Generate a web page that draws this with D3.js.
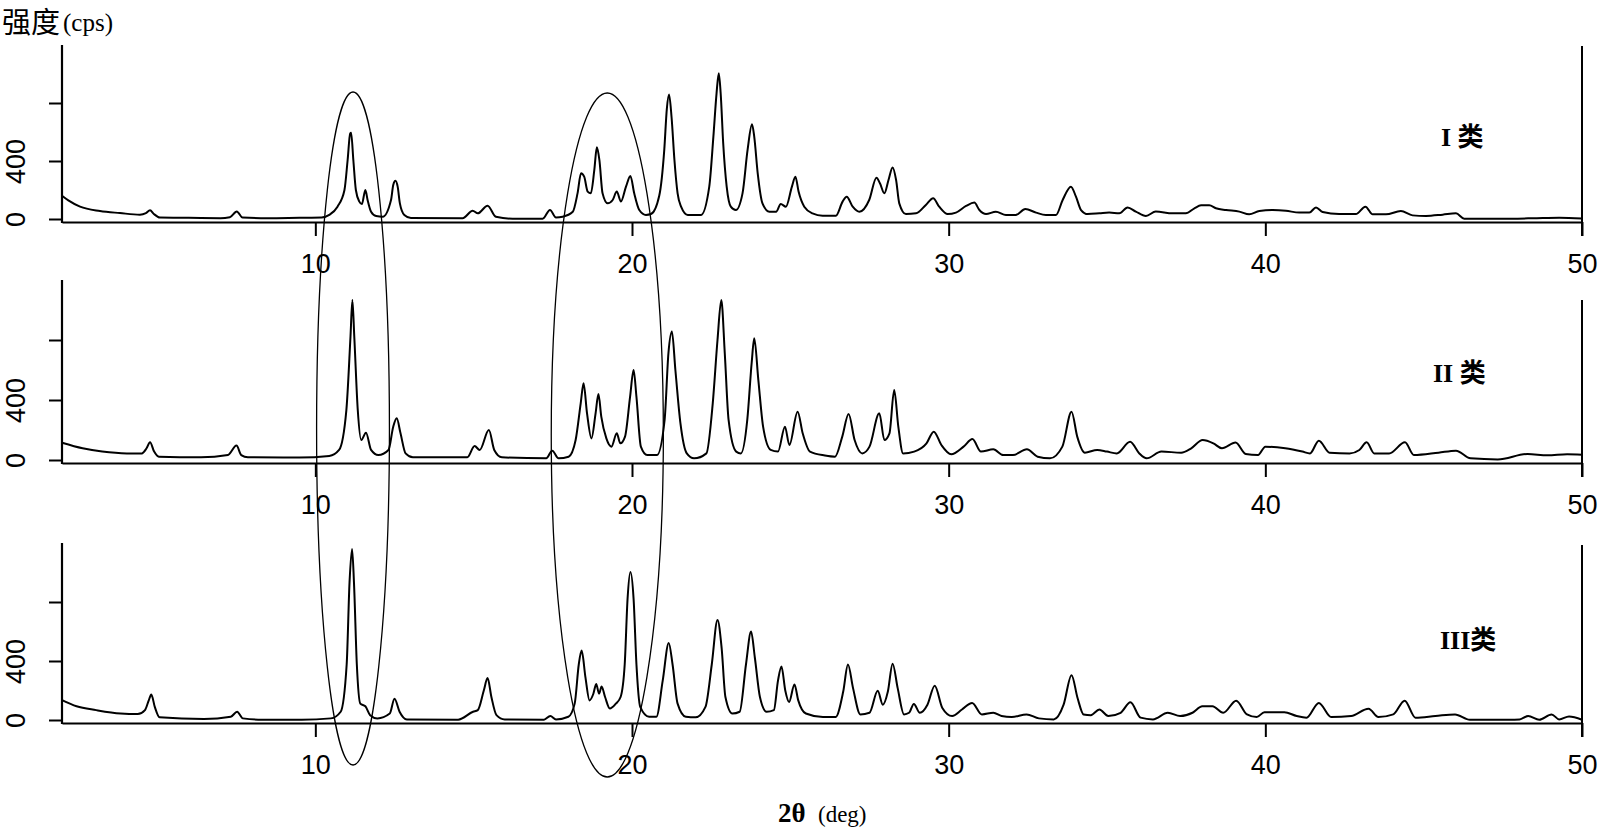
<!DOCTYPE html>
<html><head><meta charset="utf-8">
<script src="https://cdn.jsdelivr.net/npm/d3@7"></script>
<style>html,body{margin:0;padding:0;background:#fff;} svg{display:block;}</style>
</head><body>
<svg id="chart" width="1600" height="828"></svg>
<script>
// ---- data (2θ in deg, intensity in cps) ----
const seriesI = [
[2.0,160],[2.2,128],[2.57,85],[3.2,55],[3.83,41],[4.46,30],[4.65,40],[4.78,60],[4.9,35],[5.09,10],
[6.0,8],[7.0,6],[7.3,12],[7.52,52],[7.7,10],[8.5,5],[9.5,8],[10.2,10],
[10.44,28],[10.7,85],[10.92,200],[11.02,407],[11.1,590],[11.13,595],[11.2,407],[11.28,200],[11.39,120],[11.47,103],[11.58,200],[11.65,131],[11.76,50],[11.92,20],[12.13,16],[12.39,131],[12.46,234],[12.53,264],[12.6,223],[12.67,108],[12.81,28],[13.02,7],
[14.65,5],[14.97,57],[15.13,39],[15.44,92],[15.7,16],[16.23,2],[17.18,2],[17.41,62],[17.6,11],[17.81,16],
[18.13,50],[18.28,177],[18.39,315],[18.49,292],[18.6,189],[18.7,177],[18.81,338],[18.89,494],[18.97,407],[19.07,177],[19.23,108],[19.39,131],[19.52,189],[19.65,120],[19.81,223],[19.95,297],[20.07,177],[20.23,62],[20.44,28],[20.6,34],[20.86,160],[21.02,480],[21.1,760],[21.17,858],[21.25,700],[21.34,407],[21.44,177],[21.55,85],[21.76,28],[22.18,28],[22.44,223],[22.57,568],[22.67,867],[22.74,1005],[22.8,867],[22.88,522],[22.99,223],[23.12,85],[23.28,62],[23.49,177],[23.65,476],[23.79,653],[23.86,568],[23.97,315],[24.12,108],[24.34,50],[24.55,50],[24.7,103],[24.86,85],[25.05,223],[25.16,292],[25.26,189],[25.44,85],[25.7,39],[26.02,23],[26.44,23],[26.65,120],[26.78,154],[26.97,85],[27.18,50],[27.49,131],[27.72,285],[27.83,246],[27.97,177],[28.1,269],[28.23,356],[28.34,269],[28.44,108],[28.65,34],[28.97,39],[29.28,97],[29.51,143],[29.7,85],[29.97,34],[30.23,44],[30.55,90],[30.81,113],[30.97,62],[31.18,34],[31.49,50],[31.81,28],[32.12,28],[32.42,69],[32.76,44],[33.07,28],[33.39,28],[33.6,131],[33.86,223],[34.02,154],[34.18,62],[34.39,34],[34.76,39],[35.07,44],[35.39,39],[35.65,80],[35.91,51],[36.23,21],[36.54,51],[37.07,39],[37.49,39],[37.76,74],[37.97,94],[38.23,94],[38.44,74],[38.76,62],[39.18,51],[39.49,32],[39.81,55],[40.23,62],[40.65,57],[41.07,44],[41.39,44],[41.6,80],[41.81,48],[42.33,34],[42.86,34],[43.16,85],[43.39,32],[43.81,32],[44.28,55],[44.65,25],[45.07,21],[45.6,30],[46.02,39],[46.28,2],[47.39,2],[48.44,5],[49.28,9],[50,3]
];
const seriesII = [
[2.0,115],[2.65,78],[3.27,56],[4.05,44],[4.52,44],[4.67,78],[4.78,118],[4.91,56],[5.06,22],[6.39,18],[7.24,33],[7.51,96],[7.66,33],[7.87,18],[9.5,16],[10.44,27],[10.75,67],[10.98,333],[11.11,822],[11.17,1067],[11.23,822],[11.34,333],[11.45,133],[11.6,182],[11.76,67],[11.99,33],[12.31,67],[12.46,222],[12.57,278],[12.69,178],[12.85,44],[13.08,18],[14.8,18],[15.03,93],[15.19,67],[15.48,200],[15.65,67],[15.89,18],[17.29,11],[17.48,62],[17.68,11],[18.0,22],[18.22,133],[18.38,378],[18.47,511],[18.58,311],[18.72,144],[18.85,311],[18.94,440],[19.03,289],[19.19,144],[19.35,89],[19.52,178],[19.63,111],[19.78,156],[19.94,422],[20.05,600],[20.14,422],[20.28,89],[20.48,33],[20.79,33],[21.03,267],[21.15,711],[21.26,856],[21.37,600],[21.53,244],[21.73,44],[21.96,11],[22.35,44],[22.55,378],[22.7,800],[22.82,1067],[22.93,711],[23.05,267],[23.29,56],[23.44,44],[23.64,267],[23.78,650],[23.86,811],[23.99,533],[24.14,222],[24.38,67],[24.61,56],[24.83,222],[24.97,100],[25.23,322],[25.39,178],[25.62,56],[26.09,30],
[26.41,22],[26.64,156],[26.84,307],[27.03,133],[27.27,44],[27.5,89],[27.81,311],[27.97,133],[28.13,178],[28.28,467],[28.41,222],[28.56,44],[28.91,56],[29.3,111],[29.53,189],[29.77,100],[30.08,38],[30.47,89],[30.75,140],[31.02,56],[31.41,71],[31.72,33],[32.03,33],[32.47,71],[32.81,22],[33.2,11],[33.59,89],[33.88,322],[34.06,156],[34.3,49],[34.69,67],[35.0,56],[35.31,44],[35.73,122],[36.02,44],[36.25,11],[36.72,56],[37.34,49],[37.66,78],[38.02,133],[38.36,111],[38.63,78],[39.06,116],[39.38,40],[39.77,33],[40.0,89],[40.63,78],[41.17,56],[41.41,44],[41.69,129],[42.03,49],[42.66,44],[42.97,67],[43.2,118],[43.44,44],[43.91,44],[44.41,118],[44.69,33],[45.47,49],[46.02,62],[46.48,11],[47.34,4],[48.28,40],[48.91,31],[49.53,38],[50,35]
];
const seriesIII = [
[2.0,135],[2.46,93],[3.08,67],[3.85,44],[4.39,40],[4.62,67],[4.74,133],[4.82,173],[4.93,89],[5.08,18],[6.48,7],[7.33,22],[7.53,56],[7.71,11],[8.33,2],[9.57,2],[10.49,11],[10.8,56],[10.99,378],[11.08,933],[11.16,1160],[11.22,933],[11.31,378],[11.42,111],[11.58,93],[11.73,33],[11.96,11],[12.35,44],[12.5,144],[12.66,56],[12.89,4],[14.51,2],[14.98,56],[15.13,67],[15.32,200],[15.44,284],[15.56,156],[15.72,33],[15.98,4],[17.22,2],[17.42,27],[17.6,4],[17.99,22],[18.19,111],[18.32,378],[18.41,471],[18.53,289],[18.66,133],[18.78,178],[18.87,244],[18.96,178],[19.04,227],[19.15,156],[19.3,78],[19.49,111],[19.64,156],[19.77,378],[19.86,822],[19.95,1004],[20.05,822],[20.14,378],[20.26,89],[20.54,22],[20.77,22],[20.97,267],[21.16,522],[21.28,378],[21.44,111],[21.7,22],[22.01,18],[22.32,89],[22.52,378],[22.7,678],[22.83,489],[22.95,156],[23.17,44],[23.4,56],[23.6,378],[23.76,600],[23.88,422],[24.04,156],[24.25,56],[24.48,67],[24.61,267],[24.72,362],[24.84,200],[24.96,122],[25.13,240],[25.25,133],[25.49,44],[26.03,20],
[26.43,20],[26.67,193],[26.82,376],[26.98,216],[27.21,38],[27.5,49],[27.76,198],[27.92,104],[28.08,193],[28.23,382],[28.39,216],[28.59,38],[28.75,49],[28.9,109],[29.09,49],[29.33,104],[29.56,233],[29.8,82],[30.11,27],[30.42,71],[30.74,116],[31.05,38],[31.41,49],[31.67,27],[31.99,20],[32.46,38],[32.85,11],[33.32,4],[33.63,104],[33.88,304],[34.07,149],[34.26,38],[34.49,33],[34.76,71],[35.04,27],[35.43,49],[35.74,120],[36.06,16],[36.45,4],[36.92,49],[37.31,27],[37.7,49],[38.01,93],[38.33,93],[38.67,49],[39.08,131],[39.42,38],[39.73,20],[39.97,53],[40.6,53],[40.99,27],[41.3,16],[41.69,116],[42.08,20],[42.71,27],[43.26,76],[43.57,20],[44.04,38],[44.4,131],[44.74,16],[45.37,27],[45.99,38],[46.46,2],[47.71,2],[48.03,4],[48.3,27],[48.65,2],[49.04,38],[49.28,4],[49.59,24],[50,2]
];
const panelLabels = ["I 类", "II 类", "III类"];
const xTickValues = [10, 20, 30, 40, 50];
const yTickValues = [0, 400, 800];
const yTickLabels = ["0", "400", ""];
const xDomain = [2, 50];
const yDomain = [0, 1200];
// highlighted regions (2θ centre, half width in 2θ)
const ellipseCentres = [11.19, 19.22];
const ellipseHalfWidths = [1.15, 1.77];

// ---- layout ----
const svg = d3.select("#chart");
svg.append("rect").attr("width", 1600).attr("height", 828).attr("fill", "#fff");
const x = d3.scaleLinear().domain(xDomain).range([62, 1582]);
const layout = [
  {y0: 219, h: 174, rightTop: 46,  lx: 1441, ly: 146},
  {y0: 460, h: 180, rightTop: 300, lx: 1433, ly: 382},
  {y0: 720, h: 177, rightTop: 545, lx: 1440, ly: 649}
];
const allSeries = [seriesI, seriesII, seriesIII];
const numFont = "'Liberation Sans', Arial, sans-serif";

allSeries.forEach((data, i) => {
  const L = layout[i];
  const y = d3.scaleLinear().domain(yDomain).range([L.y0, L.y0 - L.h]);
  const g = svg.append("g");

  // data line
  g.append("path")
    .datum(data)
    .attr("fill", "none")
    .attr("stroke", "#000")
    .attr("stroke-width", 2)
    .attr("stroke-linejoin", "round")
    .attr("d", d3.line().curve(d3.curveMonotoneX).x(d => x(d[0])).y(d => y(d[1])));

  // x axis
  const xa = g.append("g")
    .attr("transform", `translate(0,${L.y0 + 3})`)
    .call(d3.axisBottom(x).tickValues(xTickValues).tickSize(14).tickSizeOuter(0).tickPadding(18));
  xa.select(".domain").attr("stroke-width", 2.2);
  xa.selectAll(".tick line").attr("stroke-width", 2);
  xa.selectAll("text").attr("font-family", numFont).attr("font-size", 27).attr("fill", "#000");

  // y axis
  const ya = g.append("g")
    .attr("transform", `translate(${x(xDomain[0])},0)`)
    .call(d3.axisLeft(y).tickValues(yTickValues).tickSize(13).tickFormat((d, k) => yTickLabels[k]));
  ya.select(".domain").remove();
  ya.selectAll(".tick line").attr("stroke-width", 2);
  ya.selectAll("text")
    .attr("x", null).attr("dy", "0.36em")
    .attr("text-anchor", "middle")
    .attr("transform", "translate(-47,0) rotate(-90)")
    .attr("font-family", numFont).attr("font-size", 27).attr("fill", "#000");
  g.append("line")
    .attr("x1", x(xDomain[0])).attr("x2", x(xDomain[0]))
    .attr("y1", y(yDomain[1])).attr("y2", L.y0 + 4)
    .attr("stroke", "#000").attr("stroke-width", 2.2);

  // right vertical line at 50
  g.append("line")
    .attr("x1", x(xDomain[1])).attr("x2", x(xDomain[1]))
    .attr("y1", L.rightTop).attr("y2", L.y0 + 17)
    .attr("stroke", "#000").attr("stroke-width", 2);

  // panel label
  g.append("text")
    .attr("x", L.lx).attr("y", L.ly)
    .attr("font-family", "'Liberation Serif', 'Noto Sans CJK SC', serif")
    .attr("font-weight", "bold")
    .attr("font-size", 26)
    .attr("fill", "#000")
    .text(panelLabels[i]);
});

// title
const t = svg.append("text").attr("x", 2).attr("y", 33).attr("fill", "#000");
t.append("tspan").attr("font-family", "'Noto Sans CJK SC', sans-serif").attr("font-size", 29).text("强度");
t.append("tspan").attr("font-family", "'Liberation Serif', serif").attr("font-size", 25).attr("dx", 3).attr("dy", -2).text("(cps)");

// bottom label
const b = svg.append("text").attr("x", 778).attr("y", 822).attr("fill", "#000");
b.append("tspan").attr("font-family", "'Liberation Serif', serif").attr("font-weight", "bold").attr("font-size", 27).text("2θ");
b.append("tspan").attr("font-family", "'Liberation Serif', serif").attr("font-size", 23).attr("x", 818).text("(deg)");

// ellipses
const ellTop = [92, 93], ellBottom = [765, 777];
ellipseCentres.forEach((c, k) => {
  svg.append("ellipse")
    .attr("cx", x(c))
    .attr("cy", (ellTop[k] + ellBottom[k]) / 2)
    .attr("rx", x(c + ellipseHalfWidths[k]) - x(c))
    .attr("ry", (ellBottom[k] - ellTop[k]) / 2)
    .attr("fill", "none")
    .attr("stroke", "#000")
    .attr("stroke-width", 1.3);
});
</script>
</body></html>
